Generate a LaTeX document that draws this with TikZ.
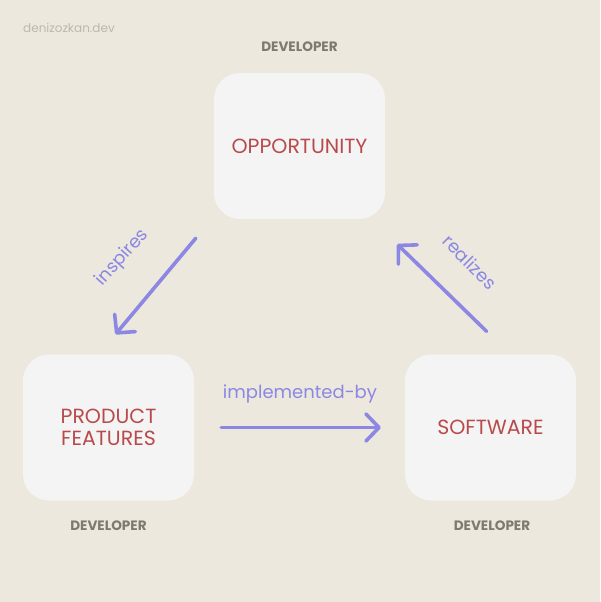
\documentclass[tikz,border=0pt]{standalone}
\usepackage{fontspec}
\setmainfont{Poppins}
\usetikzlibrary{arrows.meta}

\definecolor{bgc}{HTML}{EDE8DD}
\definecolor{boxc}{HTML}{F4F4F4}
\definecolor{txtred}{HTML}{B94A4C}
\definecolor{arrc}{HTML}{8B87E3}
\definecolor{devc}{HTML}{7D7A70}
\definecolor{wmc}{HTML}{BCB8AE}

\begin{document}
\begin{tikzpicture}[
    x=1pt, y=-1pt, % one unit = one pixel of the 600x602 canvas, y grows downwards
    % Box style: adjust size, corner radius, font size
    box/.style={fill=boxc,rounded corners=26pt,align=center,minimum width=171pt,minimum height=146pt,
                text=txtred,font=\fontsize{20.5}{22.5}\selectfont,inner sep=0pt},
    % Role style: small bold caption under/over each box
    role/.style={font=\fontsize{13.6}{15}\selectfont\bfseries,text=devc,inner sep=1pt},
    % Label style: arrow captions
    lbl/.style={font=\fontsize{18}{20}\selectfont,text=arrc,inner sep=1pt},
    arr/.style={draw=arrc,line width=3.6pt,line cap=round,-{Straight Barb[length=13pt,width=27pt,round]}}
]

% background and canvas size
\fill[bgc] (0,0) rectangle (600,602);
\useasboundingbox (0,0) rectangle (600,602);

% ==============================
% TUNING KNOBS
% ==============================
\def\xL{108.5}  % LEFT box x
\def\xM{299.5}  % TOP box x
\def\xR{490.5}  % RIGHT box x
\def\yTop{146}  % TOP box y
\def\yBot{427.5}% BOTTOM row y

% watermark
\node[font=\fontsize{12}{14}\selectfont,text=wmc,anchor=west,inner sep=0pt] (wm) at (23,28) {denizozkan.dev};

% ==============================
% BOXES
% ==============================
\node[box] (opp)  at (\xM,\yTop) {OPPORTUNITY};
\node[box] (prod) at (\xL,\yBot) {PRODUCT\\FEATURES};
\node[box] (soft) at (\xR,\yBot) {SOFTWARE};

% role captions
\node[role] (roleopp)  at (\xM,47)  {DEVELOPER};
\node[role] (roleprod) at (\xL,526) {DEVELOPER};
\node[role] (rolesoft) at (492,526) {DEVELOPER};

% ==============================
% ARROWS
% ==============================
\draw[arr] ([shift={(-18,19)}]opp.south west) -- ([shift={(7,-20)}]prod.north);
\draw[arr] ([shift={(27,0)}]prod.east) -- ([shift={(-24,0)}]soft.west);
\draw[arr] ([shift={(-4,-23)}]soft.north) -- ([shift={(12,25)}]opp.south east);

% arrow labels
\node[lbl,rotate=48]  (linsp) at (122.5,258) {inspires};
\node[lbl]            (limpl) at (300,394)   {implemented-by};
\node[lbl,rotate=-45] (lreal) at (470,262)   {realizes};
\end{tikzpicture}
\end{document}
